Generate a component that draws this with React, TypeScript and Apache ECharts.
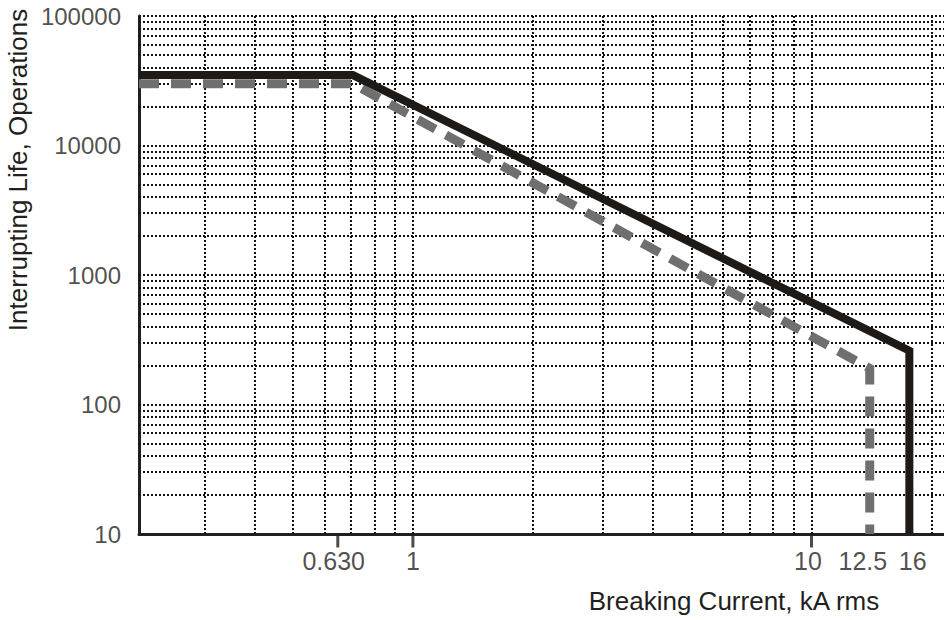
import React, { useEffect, useRef } from "react";
import * as echarts from "echarts";

// Axis ranges (kA rms / operations)
const xMin = 0.2055;
const xMax = 21.5;
const yMin = 10;
const yMax = 100000;

// Grid lines (log grid)
const xGridValues = [0.3, 0.4, 0.5, 0.6, 0.7, 0.8, 0.9, 1, 2, 3, 4, 5, 6, 7, 8, 9, 10, 20];
const yGridValues = [
  20, 30, 40, 50, 60, 70, 80, 90, 100,
  200, 300, 400, 500, 600, 700, 800, 900, 1000,
  2000, 3000, 4000, 5000, 6000, 7000, 8000, 9000, 10000,
  20000, 30000, 40000, 50000, 60000, 70000, 80000, 90000, 100000,
];

// Y tick labels
const yLabelValues = [10, 100, 1000, 10000, 100000];

// X tick labels (as drawn in the picture) and where ticks are drawn
const xLabelTexts = ["0.630", "1", "10", "12.5", "16"];
const xLabelPositions = [0.633, 1, 9.8, 13.45, 17.95];
const xTickPositions = [0.648, 1, 10];

// Curves (breaking current kA, operations)
const solidX = [xMin, 0.707, 17.6, 17.6];
const solidY = [35000, 35000, 260, 10];
const dashedX = [xMin, 0.707, 14.0, 14.0];
const dashedY = [30000, 30000, 190, 10];

const FONT = "'Liberation Sans', Arial, sans-serif";
const INK = "#231f20";

export default function App() {
  const ref = useRef<HTMLDivElement>(null);

  useEffect(() => {
    if (!ref.current) return;
    const chart = echarts.init(ref.current, undefined, { renderer: "svg" });
    const dotted = { color: "#111111", width: 2, type: [2, 2] as number[] };

    chart.setOption({
      animation: false,
      backgroundColor: "#ffffff",
      grid: { left: 139, right: 0, top: 16, bottom: 86, containLabel: false },
      xAxis: {
        type: "log",
        logBase: 10,
        min: xMin,
        max: xMax,
        axisLine: { show: true, onZero: false, lineStyle: { color: INK, width: 3 } },
        axisTick: { show: false },
        axisLabel: { show: false },
        splitLine: { show: false },
      },
      yAxis: {
        type: "log",
        logBase: 10,
        min: yMin,
        max: yMax,
        axisLine: { show: true, onZero: false, lineStyle: { color: INK, width: 3 } },
        axisTick: { show: false },
        splitLine: { show: false },
        axisLabel: { show: false },
      },
      graphic: [
        {
          type: "text",
          x: 18,
          y: 170,
          rotation: Math.PI / 2,
          style: {
            text: "Interrupting Life, Operations",
            fontSize: 26,
            fontFamily: FONT,
            fill: INK,
            textAlign: "center",
            textVerticalAlign: "middle",
          },
        },
        {
          type: "text",
          x: 734,
          y: 601,
          style: {
            text: "Breaking Current, kA rms",
            fontSize: 26,
            fontFamily: FONT,
            fill: INK,
            textAlign: "center",
            textVerticalAlign: "middle",
          },
        },
      ],
      series: [
        {
          name: "grid",
          type: "line",
          data: [],
          silent: true,
          markLine: {
            z: 1,
            silent: true,
            symbol: ["none", "none"],
            label: { show: false },
            lineStyle: dotted,
            emphasis: { disabled: true },
            data: [
              ...xGridValues.map((v) => ({ xAxis: v })),
              ...yGridValues.map((v) => ({ yAxis: v })),
            ],
          },
        },
        {
          name: "dashed",
          type: "line",
          z: 3,
          symbol: "none",
          lineStyle: { color: "#6f6f6f", width: 9, type: [20, 12], join: "miter", cap: "butt" },
          data: dashedX.map((x, i) => [x, dashedY[i]]),
        },
        {
          name: "solid",
          type: "line",
          z: 4,
          symbol: "none",
          lineStyle: { color: "#1e1a17", width: 8, type: "solid", join: "miter", cap: "butt" },
          data: solidX.map((x, i) => [x, solidY[i]]),
        },
        {
          name: "ticks",
          type: "scatter",
          z: 5,
          clip: false,
          silent: true,
          symbol: "rect",
          symbolSize: [3, 13],
          symbolOffset: [0, 7],
          itemStyle: { color: INK },
          data: xTickPositions.map((x) => [x, yMin]),
        },
        {
          name: "xlabels",
          type: "scatter",
          z: 5,
          clip: false,
          silent: true,
          symbolSize: 0,
          itemStyle: { color: "transparent" },
          label: {
            show: true,
            position: "bottom",
            distance: 14,
            formatter: "{b}",
            color: INK,
            fontSize: 25,
            fontFamily: FONT,
          },
          data: xLabelPositions.map((x, i) => ({ name: xLabelTexts[i], value: [x, yMin] })),
        },
        {
          name: "ylabels",
          type: "scatter",
          z: 5,
          clip: false,
          silent: true,
          symbolSize: 0,
          itemStyle: { color: "transparent" },
          label: {
            show: true,
            position: "left",
            distance: 18,
            formatter: "{b}",
            color: INK,
            fontSize: 24,
            fontFamily: FONT,
          },
          data: yLabelValues.map((v) => ({ name: String(v), value: [xMin, v] })),
        },
      ],
    });

    return () => chart.dispose();
  }, []);

  return (
    <div
      ref={ref}
      style={{ position: "absolute", left: 0, top: 0, width: 944, height: 620 }}
    />
  );
}
